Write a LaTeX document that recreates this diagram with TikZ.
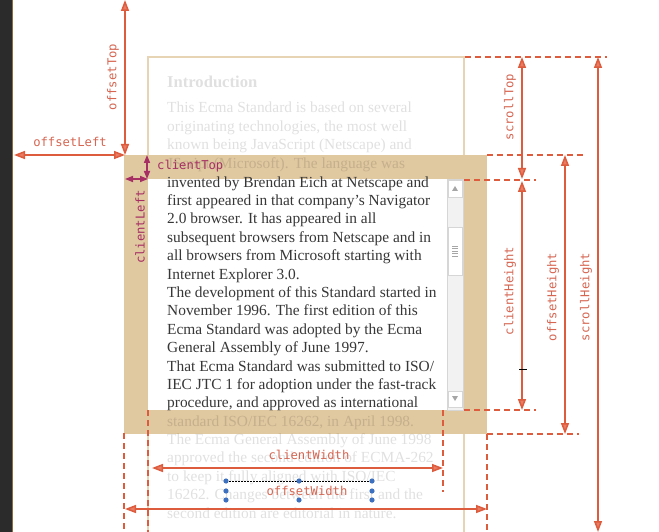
\documentclass[tikz,border=0pt]{standalone}
\usepackage{fontspec}
\setmainfont{Liberation Serif}
\newfontfamily\labfont{DejaVu Sans Mono}
\usetikzlibrary{arrows.meta,positioning,calc}
\definecolor{mArrow}{RGB}{221,92,62}
\definecolor{mArrowFill}{RGB}{233,124,98}
\definecolor{mLabel}{RGB}{214,102,82}
\definecolor{mPurple}{RGB}{166,48,100}
\definecolor{mBand}{RGB}{224,200,160}
\definecolor{mFrame}{RGB}{230,212,180}
\definecolor{mBody}{RGB}{55,55,55}
\definecolor{mDark}{RGB}{43,43,43}
\definecolor{mEdge}{RGB}{140,108,58}
\definecolor{mHandle}{RGB}{62,112,192}
\definecolor{mTrack}{RGB}{242,242,242}
\definecolor{mTrackLn}{RGB}{214,214,214}
\tikzset{
  dimln/.style={{Triangle[length=11pt,width=8pt,fill=mArrowFill]}-{Triangle[length=11pt,width=8pt,fill=mArrowFill]}, line width=1.5pt, mArrow},
  cdimln/.style={{Triangle[length=8pt,width=6pt]}-{Triangle[length=8pt,width=6pt]}, line width=1.5pt, mPurple},
  guideln/.style={dash pattern=on 6pt off 4pt, line width=1.5pt, mArrow},
  dimlab/.style={font=\labfont\fontsize{12.2}{14}\selectfont, text=mLabel, inner sep=0pt},
  bodytxt/.style={font=\fontsize{15.4}{18.4}\selectfont, anchor=base west, inner sep=0pt, text=mBody},
  fadetxt/.style={bodytxt, text=black, text opacity=0.12},
  sbbtn/.style={fill=white, draw=mTrackLn, line width=0.6pt},
}

\begin{document}
\begin{tikzpicture}[x=1pt, y=-1pt]
    \useasboundingbox (0,0) rectangle (659,532);
    \fill[white] (0,0) rectangle (659,532);
    % editor edge
    \fill[mDark] (0,0) rectangle (12,532);
    \draw[mEdge, line width=1.2pt] (12.6,0) -- (12.6,532);
    % scrolled content, border and client area
    \draw[mFrame, line width=1.2pt] (148,540) -- (148,57) -- (464,57) -- (464,540);
    \fill[mBand] (124,155) rectangle (487,434);
    \fill[white] (148,179) rectangle (464,410);
    % scrollbar
    \draw[mTrackLn, fill=mTrack, line width=0.6pt] (447,179) rectangle (463,410);
    \draw[sbbtn] (448,180) rectangle (462,197);
    \fill[gray!70] (452,191) -- (458,191) -- (455,186) -- cycle;
    \draw[sbbtn] (448,227) rectangle (462,275);
    \foreach \g in {246,248.5,251,253.5,256}
      \draw[gray!70, line width=0.8pt] (452,\g) -- (458,\g);
    \draw[sbbtn] (448,391) rectangle (462,407);
    \fill[gray!70] (452,396) -- (458,396) -- (455,401) -- cycle;
    % text
    \node[fadetxt, font=\bfseries\fontsize{16.6}{19}\selectfont] (intro) at (167,88) {Introduction};
    \foreach \ln [count=\i from 0] in {This Ecma Standard is based on several,
        originating technologies{,} the most well,
        known being JavaScript (Netscape) and,
        JScript (Microsoft). The language was}
      \node[fadetxt] (top\i) at (167,113+18.4*\i) {\ln};
    \foreach \ln [count=\i from 0] in {invented by Brendan Eich at Netscape and,
        first appeared in that company's Navigator,
        2.0 browser. It has appeared in all,
        subsequent browsers from Netscape and in,
        all browsers from Microsoft starting with,
        Internet Explorer 3.0.,
        The development of this Standard started in,
        November 1996. The first edition of this,
        Ecma Standard was adopted by the Ecma,
        General Assembly of June 1997.,
        That Ecma Standard was submitted to ISO/,
        IEC JTC 1 for adoption under the fast-track,
        procedure{,} and approved as international}
      \node[bodytxt] (mid\i) at (167,187+18.4*\i) {\ln};
    \foreach \ln [count=\i from 0] in {standard ISO/IEC 16262{,} in April 1998.,
        The Ecma General Assembly of June 1998,
        approved the second edition of ECMA-262,
        to keep it fully aligned with ISO/IEC,
        16262. Changes between the first and the,
        second edition are editorial in nature.}
      \node[fadetxt] (bot\i) at (167,426+18.4*\i) {\ln};
    % guides
    \foreach \a/\b in {{465,57}/{607,57}, {487,155}/{583,155}, {464,180}/{536,180},
        {464,410}/{536,410}, {487,434}/{579,434}, {487,434}/{487,532},
        {124,433}/{124,532}, {148,410}/{148,532}, {443,410}/{443,492}}
      \draw[guideln] (\a) -- (\b);
    % end points
    \coordinate (pgTop) at (125,0);
    \coordinate (pgLeft) at (14,155);
    \coordinate (bdTL) at (125,155);
    \coordinate (ctA) at (147,155);
    \coordinate (ctB) at (147,179);
    \coordinate (clA) at (125,179);
    \coordinate (clB) at (148,179);
    \coordinate (stA) at (522,57);
    \coordinate (stB) at (522,179);
    \coordinate (chA) at (522,181);
    \coordinate (chB) at (522,410);
    \coordinate (ohA) at (565,155);
    \coordinate (ohB) at (565,434);
    \coordinate (shA) at (598,57);
    \coordinate (shB) at (598,532);
    \coordinate (cwA) at (152,468);
    \coordinate (cwB) at (443,468);
    \coordinate (owA) at (125,509);
    \coordinate (owB) at (487,509);
    % measures
    \draw[dimln] (pgTop) -- (bdTL);
    \draw[dimln] (pgLeft) -- (bdTL);
    \draw[cdimln] (ctA) -- (ctB);
    \draw[cdimln] (clA) -- (clB);
    \draw[dimln] (stA) -- (stB);
    \draw[dimln] (chA) -- (chB);
    \draw[dimln] (ohA) -- (ohB);
    \draw[dimln] (shA) -- (shB);
    \draw[dimln] (cwA) -- (cwB);
    \draw[dimln] (owA) -- (owB);
    \draw[black, line width=1pt] (519,369) -- (527,369);
    % labels
    \node[dimlab] (lbOffLeft) at (70,142) {offsetLeft};
    \node[dimlab, rotate=90] (lbOffTop) at (113,77) {offsetTop};
    \node[dimlab, text=mPurple, anchor=west] (lbCliTop) at (157,166) {clientTop};
    \node[dimlab, text=mPurple, rotate=90] (lbCliLeft) at (140,227) {clientLeft};
    \node[dimlab, rotate=90] (lbScrTop) at (510,107) {scrollTop};
    \node[dimlab, rotate=90] (lbCliH) at (510,291) {clientHeight};
    \node[dimlab, rotate=90] (lbOffH) at (553,297) {offsetHeight};
    \node[dimlab, rotate=90] (lbScrH) at (586,297) {scrollHeight};
    \node[dimlab] (lbCliW) at (309,455) {clientWidth};
    \node[dimlab] (lbOffW) at (307,491) {offsetWidth};
    % selection handles
    \draw[black, dash pattern=on 1.5pt off 1.5pt, line width=0.8pt] (226,481) -- (372,481);
    \foreach \hx/\hy in {226/481, 299/481, 372/481, 226/491, 372/491, 226/500, 299/500, 372/500}
      \fill[mHandle] (\hx,\hy) circle (2.6pt);
  \end{tikzpicture}
\end{document}
